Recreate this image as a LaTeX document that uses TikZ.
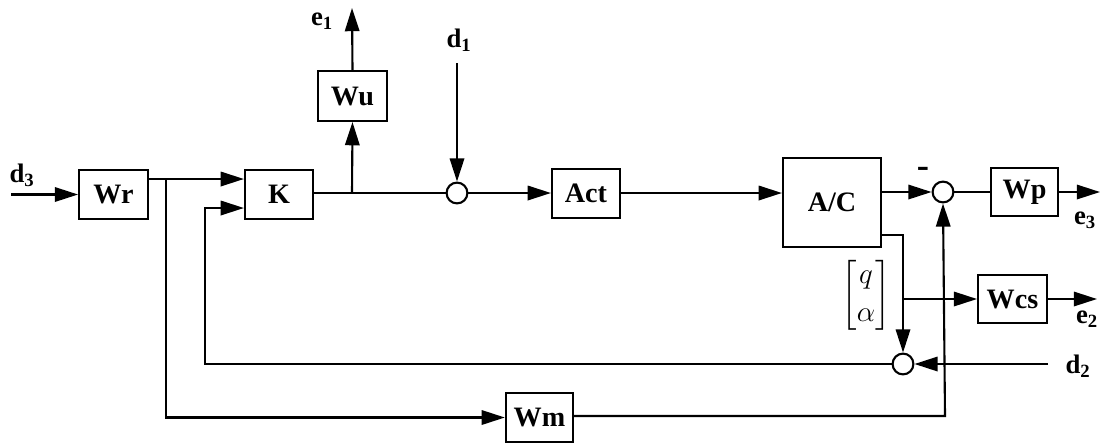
\documentclass[tikz,border=0pt]{standalone}
\usepackage{amsmath}
\usepackage{fontspec}
\setmainfont{Liberation Serif}
\usetikzlibrary{arrows.meta}
\newcommand{\sigl}[2]{#1\textsubscript{#2}}
\tikzset{
  blk/.style ={draw, line width=1.5pt, inner sep=0pt,
               font=\fontsize{20}{22}\selectfont\bfseries},
  sumj/.style={draw, circle, line width=1.5pt, minimum size=5.2mm,
               inner sep=0pt},
  sig/.style ={-{Triangle[length=5.8mm, width=3.6mm]}, line width=1.5pt},
  wire/.style={line width=1.5pt},
  lbl/.style ={font=\fontsize{19}{21}\selectfont\bfseries},
}

\begin{document}
\begin{tikzpicture}[x=0.025cm, y=-0.025cm]
  \useasboundingbox (0,0) rectangle (1102,443);
  % ---- blocks (pixel grid, y down)
  \node[blk, minimum width=1.72cm, minimum height=1.22cm] (Wr)  at (113.5,194.5) {Wr};
  \node[blk, minimum width=1.70cm, minimum height=1.22cm] (K)   at (279,194.5)   {K};
  \node[blk, minimum width=1.72cm, minimum height=1.25cm] (Wu)  at (352.5,96)    {Wu};
  \node[blk, minimum width=1.70cm, minimum height=1.22cm] (Act) at (586,193.5)   {Act};
  \node[blk, minimum width=2.45cm, minimum height=2.22cm] (AC)  at (832,202.5)   {A/C};
  \node[blk, minimum width=1.68cm, minimum height=1.20cm] (Wp)  at (1024.5,192)  {Wp};
  \node[blk, minimum width=1.72cm, minimum height=1.20cm] (Wcs) at (1012.5,299)  {Wcs};
  \node[blk, minimum width=1.68cm, minimum height=1.22cm] (Wm)  at (539.5,417.5) {Wm};
  % ---- summing junctions
  \node[sumj] (s1) at (457,193) {};
  \node[sumj] (s2) at (943,192) {};
  \node[sumj] (s3) at (903,364) {};
  % ---- free ends and corners
  \coordinate (d3in)  at (11,194.5);
  \coordinate (e1out) at (352,8);
  \coordinate (d1in)  at (457,63);
  \coordinate (e3out) at (1100,192);
  \coordinate (e2out) at (1097,299);
  \coordinate (d2in)  at (1048,364);
  \coordinate (wrsp)  at (166,179);
  \coordinate (usp)   at (352,193);
  \coordinate (acout) at (903,235);
  \coordinate (qsp)   at (903,299);
  \coordinate (fbk)   at (205,208);
  \coordinate (wmc)   at (945,416);
  % ---- labels
  \node[lbl] at (22,175)   {\sigl{d}{3}};
  \node[lbl] at (322,21)   {\sigl{e}{1}};
  \node[lbl] at (459,40)   {\sigl{d}{1}};
  \node[lbl] at (1085,220) {\sigl{e}{3}};
  \node[lbl] at (1087,319) {\sigl{e}{2}};
  \node[lbl] at (1078,366) {\sigl{d}{2}};
  \node[lbl, font=\fontsize{26}{26}\selectfont\bfseries] at (923,172) {-};
  \node[font=\fontsize{22}{27}\selectfont] at (866,295)
    {$\begin{bmatrix} q \\ \alpha \end{bmatrix}$};
  % ---- forward path
  \draw[sig]  (d3in) -- (Wr.west |- d3in);
  \draw[sig]  (Wr.east |- wrsp) -- (K.west |- wrsp);
  \draw[wire] (K.east |- usp) -- (s1);
  \draw[sig]  (usp) -- (Wu.south);
  \draw[sig]  (Wu.north) -- (e1out);
  \draw[sig]  (d1in) -- (s1.north);
  \draw[sig]  (s1) -- (Act.west |- s1);
  \draw[sig]  (Act.east |- s1) -- (AC.west |- s1);
  \draw[sig]  (AC.east |- s2) -- (s2.west);
  \draw[wire] (s2) -- (Wp.west |- s2);
  \draw[sig]  (Wp.east) -- (e3out);
  % ---- measured outputs
  \draw[sig]  (AC.east |- acout) -| (s3.north);
  \draw[sig]  (qsp) -- (Wcs.west |- qsp);
  \draw[sig]  (Wcs.east) -- (e2out);
  \draw[sig]  (d2in) -- (s3.east);
  \draw[sig]  (s3.west) -| (fbk) -- (K.west |- fbk);
  % ---- model path
  \draw[sig]  (wrsp) |- (Wm.west);
  \draw[sig]  (Wm.east |- wmc) -- (wmc) -- (s2.south);
\end{tikzpicture}
\end{document}
